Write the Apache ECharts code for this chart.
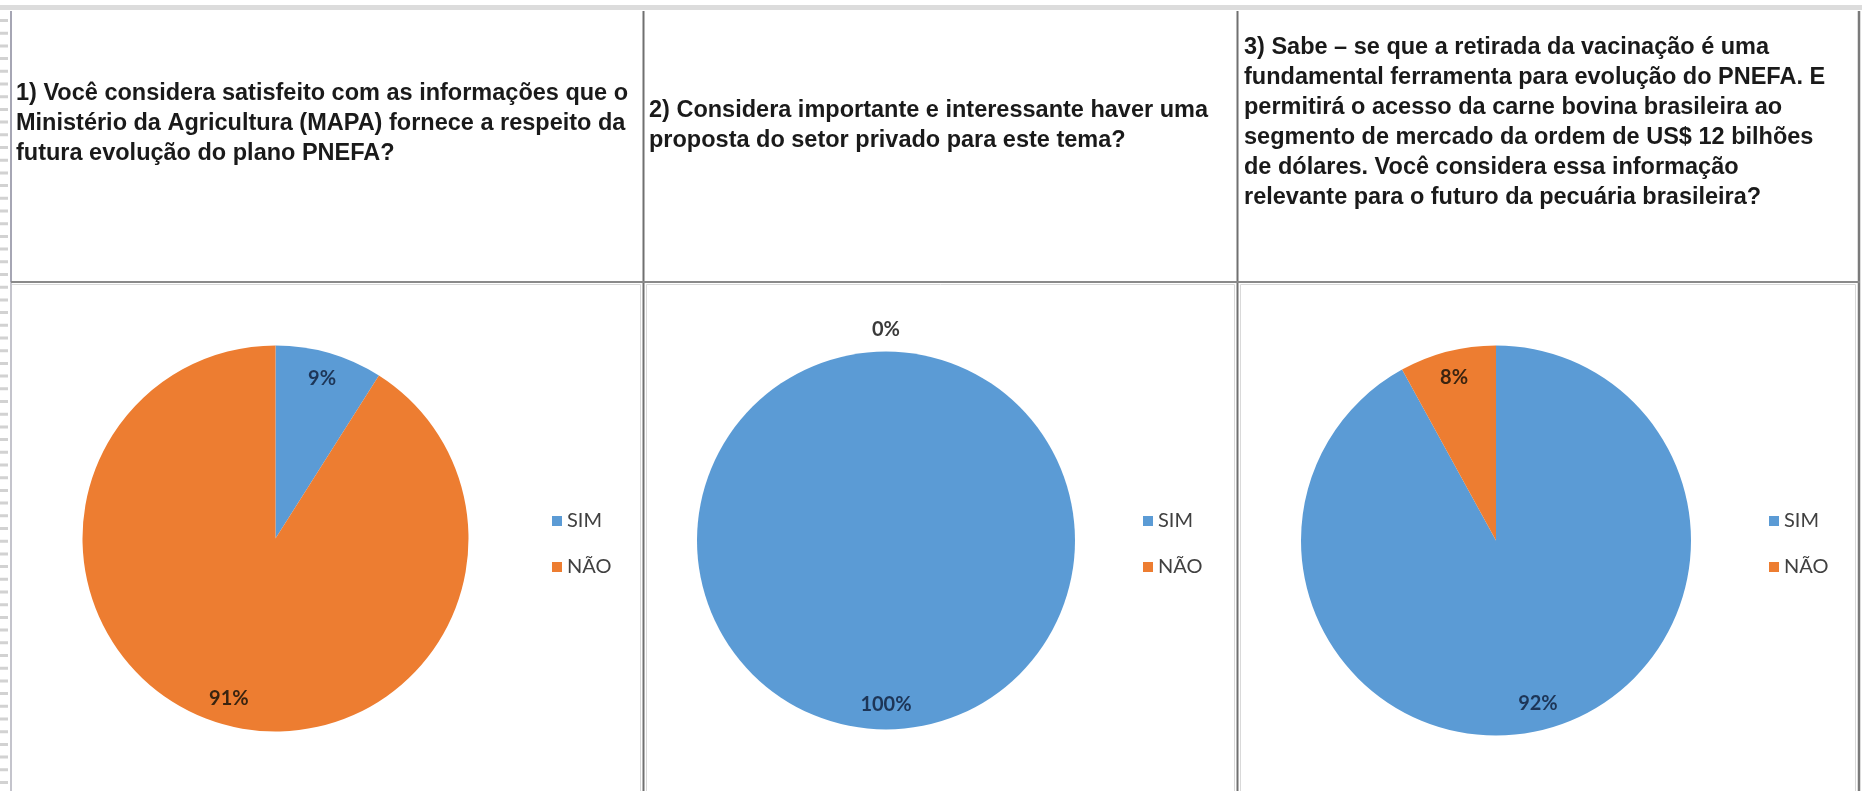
<!DOCTYPE html>
<html>
<head>
<meta charset="utf-8">
<script src="https://cdn.jsdelivr.net/npm/echarts@6/dist/echarts.min.js"></script>
<style>
html,body{margin:0;padding:0;background:#fff;}
#chart{width:1862px;height:791px;}
</style>
</head>
<body>
<div id="chart"></div>
<script>
// ---- data ----
const categories = ['SIM', 'NÃO'];
const q1Values = [9, 91];
const q2Values = [100, 0];
const q3Values = [92, 8];
const questionTexts = [
  '1) Você considera satisfeito com as informações que o\nMinistério da Agricultura (MAPA) fornece a respeito da\nfutura evolução do plano PNEFA?',
  '2) Considera importante e interessante haver uma\nproposta do setor privado para este tema?',
  '3) Sabe – se que a retirada da vacinação é uma\nfundamental ferramenta para evolução do PNEFA. E\npermitirá o acesso da carne bovina brasileira ao\nsegmento de mercado da ordem de US$ 12 bilhões\nde dólares. Você considera essa informação\nrelevante para o futuro da pecuária brasileira?'
];

// ---- styles / layout ----
const sliceColors = ['#5B9BD5', '#ED7D31'];
const labelColors = ['#1d3557', '#3a2410'];
const pies = [
  { values: q1Values, center: [275.5, 538.5], r: 193, legendLeft: 552, titleLeft: 16, titleTop: 79 },
  { values: q2Values, center: [886, 540.5], r: 189, legendLeft: 1143, titleLeft: 649, titleTop: 95.5 },
  { values: q3Values, center: [1496, 540.5], r: 195, legendLeft: 1769, titleLeft: 1244, titleTop: 32.5 }
];

const chart = echarts.init(document.getElementById('chart'), null, { renderer: 'canvas' });

const series = [];
pies.forEach((p) => {
  series.push({
    type: 'pie',
    center: p.center,
    radius: [0, p.r],
    startAngle: 90,
    clockwise: true,
    animation: false,
    silent: true,
    label: { show: false },
    labelLine: { show: false },
    itemStyle: { borderWidth: 0 },
    data: categories.map((name, i) => ({ name, value: p.values[i], itemStyle: { color: sliceColors[i] } }))
  });
});
pies.forEach((p, k) => {
  series.push({
    type: 'pie',
    center: p.center,
    radius: [p.r * 0.7, p.r],
    startAngle: 90,
    clockwise: true,
    animation: false,
    silent: true,
    avoidLabelOverlap: false,
    legendHoverLink: false,
    itemStyle: { color: 'rgba(0,0,0,0)', borderWidth: 0 },
    label: {
      show: true,
      position: 'inside',
      formatter: '{c}%',
      fontFamily: 'Lato',
      fontWeight: 'bold',
      fontSize: 20,
      distanceToLabelLine: 0
    },
    labelLine: { show: false, length: 22, length2: 0 },
    labelLayout: function (params) {
      return p.values[params.dataIndex] === 0 ? { align: 'center' } : {};
    },
    data: categories.map((name, i) => ({
      name,
      value: p.values[i],
      label: p.values[i] === 0
        ? { position: 'outside', color: '#3a3a3a' }
        : { color: labelColors[i] }
    }))
  });
});

const legends = pies.map((p) => ({
  orient: 'vertical',
  left: p.legendLeft,
  top: 509,
  padding: 0,
  itemWidth: 10,
  itemHeight: 10,
  itemGap: 22,
  icon: 'rect',
  selectedMode: false,
  textStyle: { fontFamily: 'Lato', fontSize: 20, color: '#404040', lineHeight: 24 },
  data: categories.map((name, i) => ({ name, itemStyle: { color: sliceColors[i] } }))
}));

const titles = pies.map((p, k) => ({
  text: questionTexts[k],
  left: p.titleLeft,
  top: p.titleTop,
  padding: 0,
  textStyle: {
    fontFamily: 'Liberation Sans',
    fontWeight: 'bold',
    fontSize: 23.5,
    lineHeight: 30,
    color: '#1a1a1a'
  }
}));

const graphic = [
  { type: 'rect', shape: { x: 0, y: 5, width: 1862, height: 5 }, style: { fill: '#dcdcdc' }, silent: true },
  { type: 'line', shape: { x1: 4, y1: 19, x2: 4, y2: 791 }, style: { stroke: '#d2d2d2', lineWidth: 8, lineDash: [3, 9.7] }, silent: true },
  // chart area light frames
  { type: 'rect', shape: { x: 11.5, y: 284.5, width: 629, height: 520 }, style: { fill: 'none', stroke: '#d9d9d9', lineWidth: 1 }, silent: true },
  { type: 'rect', shape: { x: 646.5, y: 284.5, width: 588, height: 520 }, style: { fill: 'none', stroke: '#d9d9d9', lineWidth: 1 }, silent: true },
  { type: 'rect', shape: { x: 1240.5, y: 284.5, width: 615, height: 520 }, style: { fill: 'none', stroke: '#d9d9d9', lineWidth: 1 }, silent: true },
  // table borders
  { type: 'line', shape: { x1: 11, y1: 11, x2: 11, y2: 282 }, style: { stroke: '#a6a6b4', lineWidth: 2 }, silent: true },
  { type: 'line', shape: { x1: 11, y1: 282, x2: 11, y2: 791 }, style: { stroke: '#c4c4cc', lineWidth: 2 }, silent: true },
  { type: 'line', shape: { x1: 643.5, y1: 11, x2: 643.5, y2: 791 }, style: { stroke: '#707070', lineWidth: 2 }, silent: true },
  { type: 'line', shape: { x1: 1237.5, y1: 11, x2: 1237.5, y2: 791 }, style: { stroke: '#707070', lineWidth: 2 }, silent: true },
  { type: 'line', shape: { x1: 1859, y1: 11, x2: 1859, y2: 791 }, style: { stroke: '#7a7a7a', lineWidth: 2.5 }, silent: true },
  { type: 'line', shape: { x1: 11, y1: 282, x2: 1860, y2: 282 }, style: { stroke: '#8a8a8a', lineWidth: 2 }, silent: true }
];

chart.setOption({
  backgroundColor: '#ffffff',
  animation: false,
  title: titles,
  legend: legends,
  graphic: graphic,
  series: series
});
</script>
</body>
</html>
